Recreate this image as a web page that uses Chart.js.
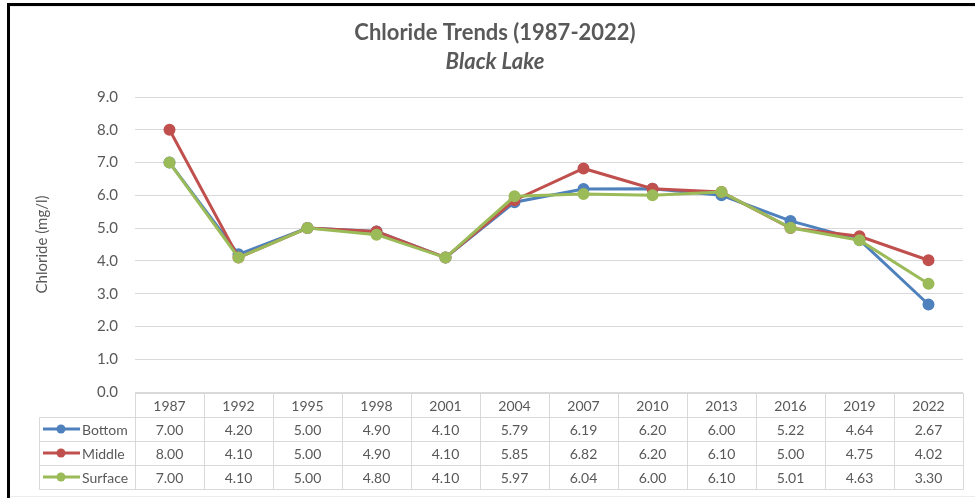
<!DOCTYPE html>
<html>
<head>
<meta charset="utf-8">
<script src="https://cdn.jsdelivr.net/npm/chart.js@4/dist/chart.umd.min.js"></script>
<style>
  html, body { margin: 0; padding: 0; background: #ffffff; }
  #wrap { position: relative; width: 975px; height: 498px; }
  canvas { display: block; }
</style>
</head>
<body>
<div id="wrap"><canvas id="chart" width="975" height="498"></canvas></div>
<script>
// Sampling years and chloride readings (mg/l) at three depths
const years = ['1987', '1992', '1995', '1998', '2001', '2004', '2007', '2010', '2013', '2016', '2019', '2022'];
const bottomValues  = [7.00, 4.20, 5.00, 4.90, 4.10, 5.79, 6.19, 6.20, 6.00, 5.22, 4.64, 2.67];
const middleValues  = [8.00, 4.10, 5.00, 4.90, 4.10, 5.85, 6.82, 6.20, 6.10, 5.00, 4.75, 4.02];
const surfaceValues = [7.00, 4.10, 5.00, 4.80, 4.10, 5.97, 6.04, 6.00, 6.10, 5.01, 4.63, 3.30];
const seriesNames = ['Bottom', 'Middle', 'Surface'];
const yMin = 0, yMax = 9, yStep = 1;

const titleText = 'Chloride Trends (1987-2022)';
const subtitleText = 'Black Lake';
const yTitle = 'Chloride (mg/l)';

const TEXT = '#595959';
const GRID = '#d9d9d9';
const FONT = 'Lato, "Open Sans", sans-serif';
const colors = ['#4F81BD', '#C0504D', '#9BBB59'];

// Frame, titles and the data table under the plot
const tablePlugin = {
  id: 'dataTable',
  beforeDraw(chart) {
    const ctx = chart.ctx;
    ctx.save();
    ctx.fillStyle = '#ffffff';
    ctx.fillRect(0, 0, chart.width, chart.height);
    ctx.fillStyle = '#000000';
    ctx.fillRect(7, 3, chart.width - 7, 3);
    ctx.fillRect(7, 3, 3, chart.height - 3);
    ctx.fillStyle = '#ececec';
    ctx.fillRect(10, 6, chart.width - 10, 1);
    ctx.fillRect(10, chart.height - 2, chart.width - 10, 1);
    ctx.fillStyle = TEXT;
    ctx.textAlign = 'center';
    ctx.textBaseline = 'middle';
    ctx.font = 'bold 22px ' + FONT;
    ctx.fillText(titleText, 495, 33);
    ctx.font = 'italic bold 22px ' + FONT;
    ctx.fillText(subtitleText, 495, 62);
    ctx.restore();
  },
  afterDraw(chart) {
    const ctx = chart.ctx;
    const area = chart.chartArea;
    const xs = chart.scales.x;
    const n = years.length;
    const cw = (area.right - area.left) / n;
    const rowH = 24;
    const top = area.bottom + 1;
    const legendLeft = 39;
    const rows = [bottomValues, middleValues, surfaceValues];

    ctx.save();
    ctx.strokeStyle = GRID;
    ctx.lineWidth = 1;
    const px = v => Math.round(v) + 0.5;

    // header row
    ctx.beginPath();
    ctx.rect(px(area.left), px(top), Math.round(area.right) - Math.round(area.left), rowH);
    ctx.stroke();
    // body rows including the legend column
    for (let r = 0; r <= rows.length; r++) {
      const y = px(top + rowH * (r + 1));
      ctx.beginPath();
      ctx.moveTo(px(legendLeft), y);
      ctx.lineTo(px(area.right), y);
      ctx.stroke();
    }
    // vertical borders
    ctx.beginPath();
    ctx.moveTo(px(legendLeft), px(top + rowH));
    ctx.lineTo(px(legendLeft), px(top + rowH * 4));
    ctx.stroke();
    for (let i = 0; i <= n; i++) {
      const x = px(xs.getPixelForValue(Math.min(i, n - 1)) + (i === n ? cw / 2 : -cw / 2));
      ctx.beginPath();
      ctx.moveTo(x, px(top));
      ctx.lineTo(x, px(top + rowH * 4));
      ctx.stroke();
    }

    ctx.fillStyle = TEXT;
    ctx.font = '14px ' + FONT;
    ctx.textAlign = 'center';
    ctx.textBaseline = 'middle';
    for (let i = 0; i < n; i++) {
      const x = xs.getPixelForValue(i);
      ctx.fillText(years[i], x, top + rowH / 2 + 1);
      rows.forEach((vals, r) => {
        ctx.fillText(vals[i].toFixed(2), x, top + rowH * (r + 1) + rowH / 2 + 1);
      });
    }

    // legend keys
    rows.forEach((vals, r) => {
      const y = top + rowH * (r + 1) + rowH / 2;
      ctx.strokeStyle = colors[r];
      ctx.lineWidth = 3;
      ctx.beginPath();
      ctx.moveTo(43, y);
      ctx.lineTo(80, y);
      ctx.stroke();
      ctx.fillStyle = colors[r];
      ctx.beginPath();
      ctx.arc(61, y, 4.5, 0, Math.PI * 2);
      ctx.fill();
      ctx.fillStyle = TEXT;
      ctx.textAlign = 'left';
      ctx.fillText(seriesNames[r], 82, y + 1);
    });
    ctx.restore();
  }
};

const makeSet = (label, data, color, order) => ({
  label, data, order,
  borderColor: color,
  backgroundColor: color,
  pointBackgroundColor: color,
  pointBorderColor: color,
  borderWidth: 3,
  pointRadius: 4.5,
  pointHoverRadius: 4.5,
  tension: 0,
  fill: false
});

new Chart(document.getElementById('chart'), {
  type: 'line',
  data: {
    labels: years,
    datasets: [
      makeSet(seriesNames[0], bottomValues, colors[0], 2),
      makeSet(seriesNames[1], middleValues, colors[1], 1),
      makeSet(seriesNames[2], surfaceValues, colors[2], 0)
    ]
  },
  options: {
    responsive: false,
    animation: false,
    devicePixelRatio: 1,
    layout: { padding: { left: 28, right: 12, top: 97, bottom: 106 } },
    plugins: {
      legend: { display: false },
      title: { display: false },
      tooltip: { enabled: false }
    },
    scales: {
      x: {
        type: 'category',
        display: false,
        offset: true
      },
      y: {
        min: yMin,
        max: yMax,
        afterFit(scale) { scale.width = 107; },
        ticks: {
          stepSize: yStep,
          padding: 17,
          color: TEXT,
          font: { family: FONT, size: 15 },
          callback: v => Number(v).toFixed(1)
        },
        grid: { color: GRID, drawTicks: false, lineWidth: 1 },
        border: { display: false },
        title: {
          display: true,
          text: yTitle,
          color: TEXT,
          font: { family: FONT, size: 15 },
          padding: { top: 5, bottom: 0 }
        }
      }
    }
  },
  plugins: [tablePlugin]
});
</script>
</body>
</html>
